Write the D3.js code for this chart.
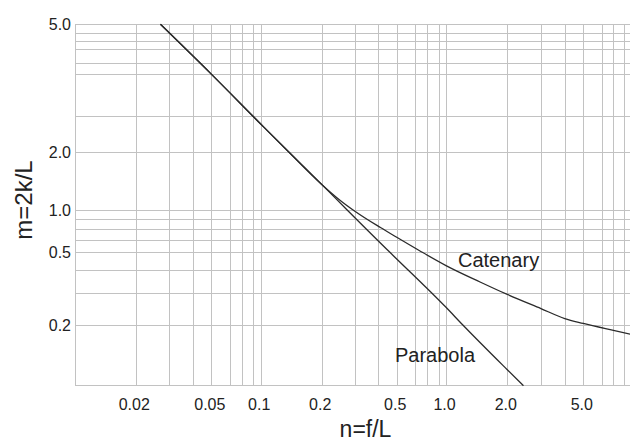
<!DOCTYPE html>
<html>
<head>
<meta charset="utf-8">
<script src="https://cdn.jsdelivr.net/npm/d3@7"></script>
<style>
    body { margin: 0; background: #fff; }
    svg { display: block; font-family: "Liberation Sans", Arial, sans-serif; }
    .grid line { stroke: #c2c2c2; stroke-width: 1; shape-rendering: crispEdges; }
    .grid path { display: none; }
    .curve { fill: none; stroke: #2b2b2b; stroke-width: 1.3; }
</style>
</head>
<body>
<script>
// Tick labels on both axes
const xTickValues = [0.02, 0.05, 0.1, 0.2, 0.5, 1.0, 2.0, 5.0];
const xTickLabels = ["0.02", "0.05", "0.1", "0.2", "0.5", "1.0", "2.0", "5.0"];
const yTickValues = [0.2, 0.5, 1.0, 2.0, 5.0];
const yTickLabels = ["0.2", "0.5", "1.0", "2.0", "5.0"];

// Grid lines
const xGridValues = [0.02, 0.03, 0.04, 0.05, 0.065, 0.077, 0.09, 0.1,
                     0.2, 0.3, 0.4, 0.5, 0.65, 0.77, 0.9, 1.0,
                     2.0, 3.0, 4.0, 5.0, 6.5, 7.7, 9.0];
const yGridValues = [0.2, 0.3, 0.4, 0.5, 0.61, 0.73, 0.86, 1.0,
                     2.0, 2.6, 3.5, 3.8, 4.2, 4.45, 4.7, 5.0];

// Curves: n = f/L, m = 2k/L
const parabolaN = [0.027, 0.05, 0.1, 0.138, 0.2, 0.273, 0.46, 0.5, 1.0, 1.21, 2.0, 2.43];
const parabolaM = [5.0, 3.5, 2.45, 2.0, 1.36, 1.0, 0.5, 0.46, 0.25, 0.2, 0.12, 0.1];
const catenaryN = [0.027, 0.05, 0.1, 0.138, 0.2, 0.25, 0.3, 0.41, 0.5, 0.69, 1.0, 1.47, 2.0, 3.0, 4.0, 5.0, 7.7, 9.8];
const catenaryM = [5.0, 3.5, 2.45, 2.0, 1.36, 1.125, 0.98, 0.75, 0.64, 0.513, 0.423, 0.344, 0.294, 0.246, 0.217, 0.204, 0.188, 0.18];

// Chart dimensions
const width = 630, height = 443;
const plotLeft = 75, plotRight = 630, plotTop = 24.3, plotBottom = 385.7;

const svg = d3.select("body")
    .append("svg")
    .attr("width", width)
    .attr("height", height);

// The paper is a hand-ruled log grid, so the scales are piecewise log
const xScale = d3.scaleLog()
    .domain([0.01, 0.02, 0.05, 0.1, 0.2, 0.5, 1, 2, 5, 10])
    .range([plotLeft, 135.7, 211.3, 260.7, 321.7, 396.7, 446, 507.3, 583.3, 631.7]);

const yScale = d3.scaleLog()
    .domain([0.1, 0.2, 0.5, 1, 2, 5])
    .range([plotBottom, 325, 252.3, 210, 152.3, plotTop]);

// Vertical grid lines
svg.append("g")
    .attr("class", "grid")
    .attr("transform", "translate(0," + plotBottom + ")")
    .call(d3.axisBottom(xScale).tickValues(xGridValues).tickSize(-(plotBottom - plotTop)).tickFormat(""));

// Horizontal grid lines
svg.append("g")
    .attr("class", "grid")
    .attr("transform", "translate(" + plotLeft + ",0)")
    .call(d3.axisLeft(yScale).tickValues(yGridValues).tickSize(-(plotRight - plotLeft)).tickFormat(""));

// Frame (left and bottom)
svg.append("g")
    .attr("class", "grid")
    .call(g => {
        g.append("line").attr("x1", plotLeft).attr("x2", plotLeft).attr("y1", plotTop).attr("y2", plotBottom);
        g.append("line").attr("x1", plotLeft).attr("x2", plotRight).attr("y1", plotBottom).attr("y2", plotBottom);
    });

// X axis labels
const xAxis = svg.append("g")
    .attr("transform", "translate(0," + plotBottom + ")")
    .call(d3.axisBottom(xScale).tickValues(xTickValues).tickSize(0).tickPadding(13)
        .tickFormat((d, i) => xTickLabels[i]));
xAxis.select(".domain").remove();
xAxis.selectAll("text")
    .attr("dx", -2)
    .style("font-size", "16px")
    .attr("fill", "#222");

// Y axis labels
const yAxis = svg.append("g")
    .attr("transform", "translate(" + plotLeft + ",0)")
    .call(d3.axisLeft(yScale).tickValues(yTickValues).tickSize(0).tickPadding(4)
        .tickFormat((d, i) => yTickLabels[i]));
yAxis.select(".domain").remove();
yAxis.selectAll("text")
    .style("font-size", "16px")
    .attr("fill", "#222");

// Curves
const line = d3.line()
    .x(d => xScale(d[0]))
    .y(d => yScale(d[1]))
    .curve(d3.curveMonotoneX);

svg.append("path")
    .attr("class", "curve")
    .attr("d", line(parabolaN.map((n, i) => [n, parabolaM[i]])));

svg.append("path")
    .attr("class", "curve")
    .attr("d", line(catenaryN.map((n, i) => [n, catenaryM[i]])));

// Curve names
svg.append("text")
    .attr("x", 458).attr("y", 266.5)
    .style("font-size", "20px").attr("fill", "#222")
    .text("Catenary");

svg.append("text")
    .attr("x", 395).attr("y", 361.5)
    .style("font-size", "20px").attr("fill", "#222")
    .text("Parabola");

// Axis titles
svg.append("text")
    .attr("x", 365.5).attr("y", 437)
    .attr("text-anchor", "middle")
    .style("font-size", "23px").attr("fill", "#222")
    .text("n=f/L");

svg.append("text")
    .attr("transform", "translate(31.5,200) rotate(-90)")
    .attr("text-anchor", "middle")
    .style("font-size", "24px").attr("fill", "#222")
    .text("m=2k/L");
</script>
</body>
</html>
